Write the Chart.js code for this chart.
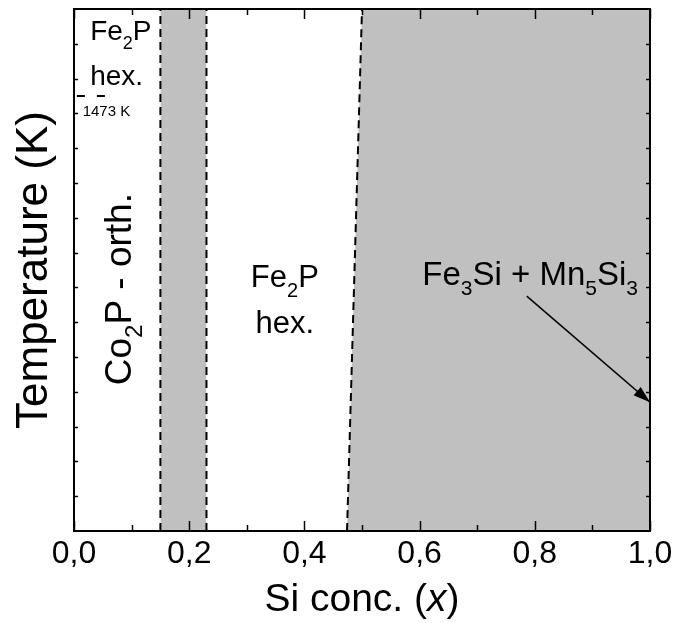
<!DOCTYPE html>
<html lang="en">
<head>
  <meta charset="UTF-8" />
  <title>Phase diagram - Si concentration</title>
  <script src="https://cdn.jsdelivr.net/npm/chart.js"></script>
  <style>
    html, body { margin: 0; padding: 0; background: #fff; }
  </style>
</head>
<body>
  <canvas id="phaseChart" width="675" height="623"></canvas>

  <script>
    // axes
    const xMajorTicks = [0, 0.2, 0.4, 0.6, 0.8, 1.0];
    const xMinorTicks = [0.1, 0.3, 0.5, 0.7, 0.9];
    const yRange = [0, 15];            // temperature axis, no numbers in the original
    const yTicks = [1, 2, 3, 4, 5, 6, 7, 8, 9, 10, 11, 12, 13, 14];

    // phase boundaries: [x, y] pairs
    const boundLeft = [[0.15, 0], [0.15, 15]];
    const boundMid = [[0.23, 0], [0.23, 15]];
    const boundRight = [[0.474, 0], [0.5, 15]];
    const line1473 = [[0.005, 12.5], [0.055, 12.5]];

    // grey two-phase regions (top edge, filled down to the axis)
    const greyBand = [[0.15, 15], [0.23, 15]];
    const greyRight = [[0.474, 0], [0.5, 15], [1.0, 15]];

    // arrow from label to the right axis
    const arrowLine = [[0.786, 6.75], [1.0, 3.7]];

    // region labels: text, x, y, font size, align, rotated
    const labels = [
      ['Fe_2P', 0.028, 14.1, 28, 'left', false],
      ['hex.', 0.028, 12.82, 28, 'left', false],
      ['1473 K', 0.015, 11.92, 15, 'left', false],
      ['Co_2P - orth.', 0.099, 6.95, 37, 'center', true],
      ['Fe_2P', 0.366, 7.0, 31, 'center', false],
      ['hex.', 0.366, 5.69, 31, 'center', false],
      ['Fe_3Si + Mn_5Si_3', 0.792, 7.07, 33, 'center', false]
    ];

    const FONT = "'Liberation Sans', Arial, sans-serif";
    const pts = arr => arr.map(p => ({ x: p[0], y: p[1] }));

    function parts(s) {
      const out = [];
      s.split(/(_\d)/).forEach(t => {
        if (!t) return;
        if (t[0] === '_') out.push([t.slice(1), true]);
        else out.push([t, false]);
      });
      return out;
    }

    function drawRich(ctx, text, x, y, size, align, rotated) {
      const segs = parts(text);
      const sub = Math.round(size * 0.65);
      let w = 0;
      segs.forEach(s => {
        ctx.font = (s[1] ? sub : size) + 'px ' + FONT;
        w += ctx.measureText(s[0]).width;
      });
      ctx.save();
      ctx.translate(x, y);
      if (rotated) ctx.rotate(-Math.PI / 2);
      let cx = align === 'center' ? -w / 2 : 0;
      ctx.textBaseline = 'alphabetic';
      ctx.textAlign = 'left';
      ctx.fillStyle = '#000';
      segs.forEach(s => {
        ctx.font = (s[1] ? sub : size) + 'px ' + FONT;
        ctx.fillText(s[0], cx, s[1] ? size * 0.3 : 0);
        cx += ctx.measureText(s[0]).width;
      });
      ctx.restore();
    }

    const decorPlugin = {
      id: 'decor',
      afterDraw(chart) {
        const ctx = chart.ctx;
        const xs = chart.scales.x, ys = chart.scales.y;
        const { left, right, top, bottom } = chart.chartArea;

        // inward ticks on all four sides
        ctx.save();
        ctx.strokeStyle = '#000';
        ctx.lineWidth = 1.5;
        ctx.beginPath();
        xMajorTicks.concat(xMinorTicks).forEach(v => {
          const px = Math.round(xs.getPixelForValue(v)) + 0.5;
          const len = xMajorTicks.includes(v) ? 10 : 6;
          ctx.moveTo(px, bottom); ctx.lineTo(px, bottom - len);
          ctx.moveTo(px, top); ctx.lineTo(px, top + len);
        });
        yTicks.forEach(v => {
          const py = Math.round(ys.getPixelForValue(v)) + 0.5;
          ctx.moveTo(left, py); ctx.lineTo(left + 4, py);
          ctx.moveTo(right, py); ctx.lineTo(right - 4, py);
        });
        ctx.stroke();

        // frame
        ctx.lineWidth = 2;
        ctx.strokeRect(left, top, right - left, bottom - top);
        ctx.restore();

        // arrow head
        const a = arrowLine[0], b = arrowLine[1];
        const x1 = xs.getPixelForValue(a[0]), y1 = ys.getPixelForValue(a[1]);
        const x2 = xs.getPixelForValue(b[0]), y2 = ys.getPixelForValue(b[1]);
        const ang = Math.atan2(y2 - y1, x2 - x1);
        ctx.save();
        ctx.translate(x2, y2);
        ctx.rotate(ang);
        ctx.fillStyle = '#000';
        ctx.beginPath();
        ctx.moveTo(0, 0);
        ctx.lineTo(-17, -5.5);
        ctx.lineTo(-17, 5.5);
        ctx.closePath();
        ctx.fill();
        ctx.restore();

        // region labels
        labels.forEach(l => {
          drawRich(ctx, l[0], xs.getPixelForValue(l[1]), ys.getPixelForValue(l[2]), l[3], l[4], l[5]);
        });

        // x axis title with italic x
        ctx.save();
        ctx.fillStyle = '#000';
        ctx.textBaseline = 'alphabetic';
        const tSize = 39;
        const p1 = 'Si conc. (', p2 = 'x', p3 = ')';
        ctx.font = tSize + 'px ' + FONT;
        const w1 = ctx.measureText(p1).width, w3 = ctx.measureText(p3).width;
        ctx.font = 'italic ' + tSize + 'px ' + FONT;
        const w2 = ctx.measureText(p2).width;
        let cx = (left + right) / 2 - (w1 + w2 + w3) / 2;
        const by = 611;
        ctx.font = tSize + 'px ' + FONT;
        ctx.fillText(p1, cx, by); cx += w1;
        ctx.font = 'italic ' + tSize + 'px ' + FONT;
        ctx.fillText(p2, cx, by); cx += w2;
        ctx.font = tSize + 'px ' + FONT;
        ctx.fillText(p3, cx, by);
        ctx.restore();
      }
    };

    const dashed = (data) => ({
      data: pts(data), borderColor: '#000', borderWidth: 2, borderDash: [8, 5],
      pointRadius: 0, fill: false, order: 1, tension: 0
    });

    new Chart(document.getElementById('phaseChart'), {
      type: 'line',
      data: {
        datasets: [
          dashed(boundLeft),
          dashed(boundMid),
          dashed(boundRight),
          Object.assign(dashed(line1473), { borderDash: [8, 12] }),
          { data: pts(arrowLine), borderColor: '#000', borderWidth: 1.5, pointRadius: 0, fill: false, order: 1 },
          { data: pts(greyBand), borderWidth: 0, borderColor: '#c0c0c0', backgroundColor: '#c0c0c0',
            pointRadius: 0, fill: 'origin', order: 2 },
          { data: pts(greyRight), borderWidth: 0, borderColor: '#c0c0c0', backgroundColor: '#c0c0c0',
            pointRadius: 0, fill: 'origin', order: 2 }
        ]
      },
      options: {
        responsive: false,
        animation: false,
        devicePixelRatio: 1,
        layout: { padding: { top: 9, right: 25, left: 0, bottom: 0 } },
        plugins: { legend: { display: false }, tooltip: { enabled: false } },
        scales: {
          x: {
            type: 'linear', min: 0, max: 1,
            afterBuildTicks: s => { s.ticks = xMajorTicks.map(v => ({ value: v })); },
            ticks: {
              color: '#000', padding: 4, maxRotation: 0, autoSkip: false,
              font: { family: FONT, size: 32 },
              callback: v => v.toFixed(1).replace('.', ',')
            },
            grid: { display: false, drawTicks: false },
            border: { display: false },
            afterFit: s => { s.height = 92; s.paddingLeft = 0; s.paddingRight = 0; }
          },
          y: {
            type: 'linear', min: yRange[0], max: yRange[1],
            ticks: { display: false, stepSize: 1 },
            grid: { display: false, drawTicks: false },
            border: { display: false },
            title: { display: true, text: 'Temperature (K)', color: '#000',
                     font: { family: FONT, size: 44 }, padding: { top: 8, bottom: 0 } },
            afterFit: s => { s.width = 74; }
          }
        }
      },
      plugins: [decorPlugin]
    });
  </script>
</body>
</html>
